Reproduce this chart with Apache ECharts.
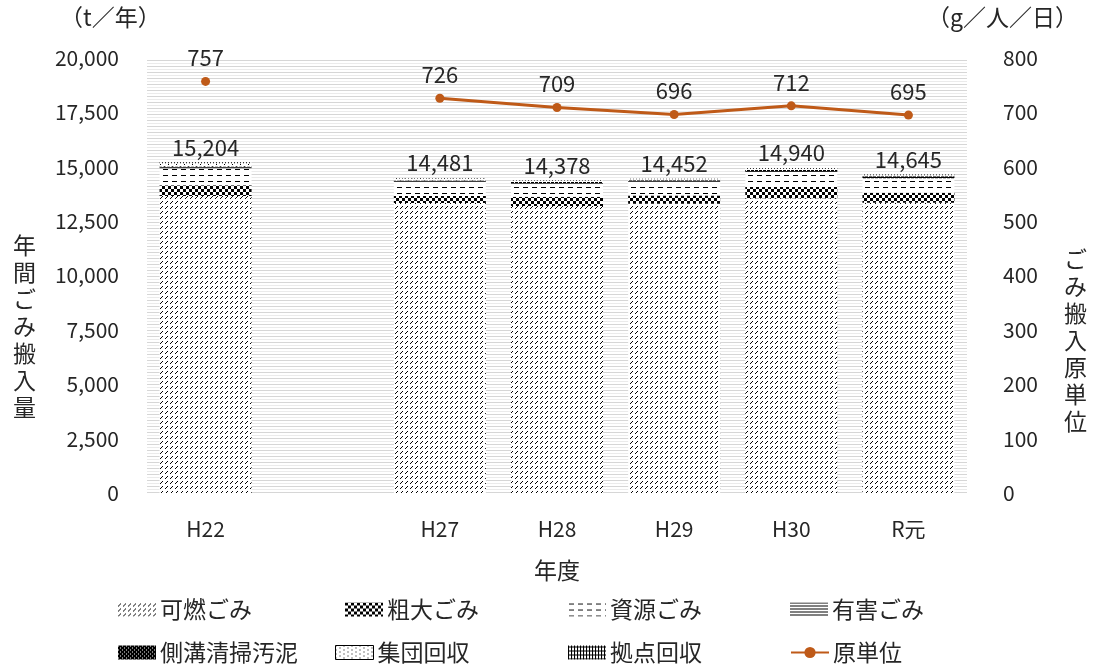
<!DOCTYPE html>
<html>
<head>
<meta charset="utf-8">
<script src="https://cdn.jsdelivr.net/npm/echarts@6/dist/echarts.min.js"></script>
<style>
  html, body { margin: 0; padding: 0; background: #fff; }
  #chart { width: 1098px; height: 668px; }
</style>
</head>
<body>
<div id="chart"></div>
<script>
// 年度
const years = ["H22", "", "H27", "H28", "H29", "H30", "R元"];

// t/年（積み上げ）
const kanen = [13650, null, 13330, 13200, 13300, 13550, 13350];
const sodai = [500, null, 320, 420, 380, 520, 450];
const shigen = [780, null, 640, 600, 620, 680, 660];
const yugai = [20, null, 15, 14, 14, 15, 15];
const sokko = [60, null, 60, 70, 60, 90, 90];
const shudan = [150, null, 90, 50, 50, 50, 45];
const kyoten = [44, null, 26, 24, 28, 35, 35];
const totals = [15204, null, 14481, 14378, 14452, 14940, 14645];

// g/人/日
const genTani = [757, null, 726, 709, 696, 712, 695];

// パターン塗り
function makePattern(w, h, bg, draw) {
  const c = document.createElement("canvas");
  c.width = w;
  c.height = h;
  const ctx = c.getContext("2d");
  ctx.fillStyle = bg;
  ctx.fillRect(0, 0, w, h);
  ctx.fillStyle = "#000";
  draw(ctx);
  return { image: c, repeat: "repeat" };
}

const pKanen = makePattern(5, 5, "#fff", (ctx) => {
  ctx.fillRect(0, 3, 1, 1);
  ctx.fillRect(1, 2, 1, 1);
  ctx.fillRect(2, 1, 1, 1);
});
const pSodai = makePattern(6, 6, "#fff", (ctx) => {
  ctx.fillRect(0, 0, 3, 3);
  ctx.fillRect(3, 3, 3, 3);
});
const pShigen = makePattern(9, 6, "#fff", (ctx) => {
  ctx.fillRect(1, 1, 5, 1);
});
const pYugai = makePattern(1, 3, "#fff", (ctx) => {
  ctx.fillRect(0, 0, 1, 1);
});
const pSokko = makePattern(4, 4, "#000", (ctx) => {
  ctx.fillStyle = "#fff";
  ctx.fillRect(0, 0, 1, 1);
  ctx.fillRect(2, 2, 1, 1);
});
const pShudan = makePattern(8, 4, "#fff", (ctx) => {
  ctx.fillRect(0, 0, 1, 1);
  ctx.fillRect(4, 2, 1, 1);
});
const pKyoten = makePattern(3, 4, "#fff", (ctx) => {
  ctx.fillRect(0, 0, 1, 4);
  ctx.fillRect(0, 1, 3, 1);
});
const pBack = makePattern(4, 6, "#fff", (ctx) => {
  ctx.fillStyle = "#d6d6d6";
  ctx.fillRect(0, 0, 4, 1);
  ctx.fillStyle = "#ebebeb";
  ctx.fillRect(0, 3, 4, 1);
});

const chart = echarts.init(document.getElementById("chart"));
const FONT = "'Noto Sans CJK JP', sans-serif";
const TXT = "#262626";
const LINE_COLOR = "#BF5A18";

function barSeries(name, data, pattern, extra) {
  return Object.assign({
    name,
    type: "bar",
    stack: "gomi",
    data,
    barWidth: 92,
    itemStyle: { color: pattern },
    emphasis: { disabled: true },
  }, extra || {});
}

// 凡例は1項目ずつ配置
function legendItem(item, left, top, isLine) {
  const lg = {
    left, top,
    itemWidth: 38,
    itemHeight: 14,
    textStyle: { fontSize: 23, color: TXT, fontFamily: FONT, padding: [0, 0, 0, -1] },
    data: [item],
  };
  if (!isLine) lg.icon = "rect";
  return lg;
}

chart.setOption({
  animation: false,
  textStyle: { fontFamily: FONT },
  grid: {
    left: 147, right: 131, top: 58, bottom: 175,
    show: true, borderWidth: 0, backgroundColor: pBack,
  },
  legend: [
    legendItem("可燃ごみ", 113, 593),
    legendItem("粗大ごみ", 340, 593),
    legendItem("資源ごみ", 563, 593),
    legendItem("有害ごみ", 785, 593),
    legendItem("側溝清掃汚泥", 113, 636),
    legendItem({ name: "集団回収", itemStyle: { borderColor: "#000", borderWidth: 1 } }, 330, 636),
    legendItem("拠点回収", 563, 636),
    legendItem("原単位", 785, 636, true),
  ],
  xAxis: {
    type: "category",
    data: years,
    axisLine: { show: false },
    axisTick: { show: false },
    axisLabel: { fontSize: 21, color: TXT, margin: 26 },
    name: "年度",
    nameLocation: "middle",
    nameGap: 66,
    nameTextStyle: { fontSize: 23, color: TXT },
  },
  yAxis: [
    {
      type: "value",
      min: 0, max: 20000, interval: 2500,
      splitLine: { show: false },
      axisLine: { show: false },
      axisLabel: {
        fontSize: 21, color: TXT, margin: 28,
        formatter: (v) => v.toLocaleString("en-US"),
      },
    },
    {
      type: "value",
      min: 0, max: 800, interval: 100,
      splitLine: { show: false },
      axisLine: { show: false },
      axisLabel: { fontSize: 21, color: TXT, margin: 36 },
    },
  ],
  graphic: [
    { type: "text", left: 60, top: 6, style: { text: "（t／年）", fontSize: 23, fill: TXT, fontFamily: FONT } },
    { type: "text", right: 20, top: 6, style: { text: "（g／人／日）", fontSize: 23, fill: TXT, fontFamily: FONT } },
    { type: "text", left: 13, top: 232, style: { text: "年間ごみ搬入量".split("").join("\n"), fontSize: 23, lineHeight: 27, fill: TXT, fontFamily: FONT } },
    { type: "text", left: 1064, top: 246, style: { text: "ごみ搬入原単位".split("").join("\n"), fontSize: 23, lineHeight: 27, fill: TXT, fontFamily: FONT } },
  ],
  series: [
    barSeries("可燃ごみ", kanen, pKanen),
    barSeries("粗大ごみ", sodai, pSodai),
    barSeries("資源ごみ", shigen, pShigen),
    barSeries("有害ごみ", yugai, pYugai),
    barSeries("側溝清掃汚泥", sokko, pSokko),
    barSeries("集団回収", shudan, pShudan),
    barSeries("拠点回収", kyoten, pKyoten, {
      label: {
        show: true,
        position: "top",
        distance: 4,
        fontSize: 22,
        color: TXT,
        formatter: (p) => (totals[p.dataIndex] != null ? totals[p.dataIndex].toLocaleString("en-US") : ""),
      },
    }),
    {
      name: "原単位",
      type: "line",
      yAxisIndex: 1,
      data: genTani,
      symbol: "circle",
      symbolSize: 9,
      showAllSymbol: true,
      connectNulls: false,
      lineStyle: { color: LINE_COLOR, width: 3 },
      itemStyle: { color: LINE_COLOR },
      label: { show: true, position: "top", distance: 8, fontSize: 22, color: TXT },
      emphasis: { disabled: true },
    },
  ],
});
</script>
</body>
</html>
